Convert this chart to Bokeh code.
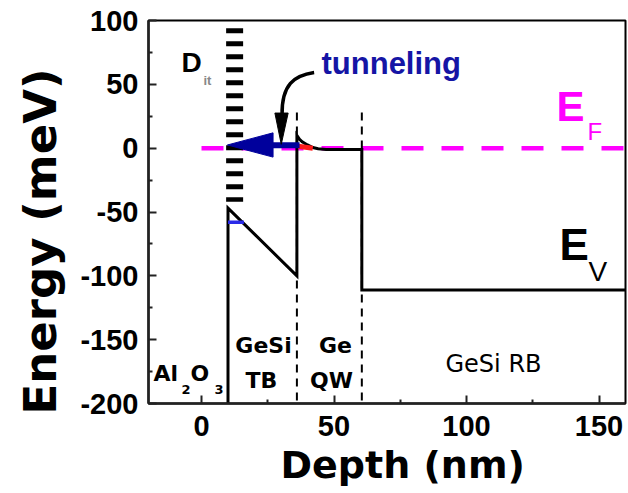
import math
from bokeh.plotting import figure
from bokeh.models import Label, FixedTicker, Range1d, Title
from bokeh.embed import file_html
from bokeh.resources import INLINE

# ---------------- data ----------------
# valence band edge E_V along depth
band_x = [10, 10, 36, 36, 37, 38, 40, 42, 44, 47, 52, 60.5, 60.5, 160]
band_y = [-200, -47, -100, 10, 7, 5, 2.5, 0.5, -0.5, -1, -1, -1, -111, -111]
# Fermi level
ef_x = [0, 160]
ef_y = [0, 0]
# interface trap states D_it
dit_x = [12.5, 12.5]
dit_y = [94, -42]
# hetero-interfaces (dashed)
iface1_x = [36, 36]
iface2_x = [60.5, 60.5]
iface_y = [28, -200]
# blue level in top barrier
lvl_x = [10, 16]
lvl_y = [-58, -58]
# red accumulation near QW edge
red_x = [36.5, 42]
red_y = [1.5, 0]
# tunneling arrow (blue)
tun_shaft_x = [37, 26]
tun_shaft_y = [2.2, 2.2]
tun_head_x = [9.8, 27, 27]
tun_head_y = [2.5, 12, -7]
# pointer arrow (black)
ptr_x0, ptr_y0 = 42.5, 59.3
ptr_cx0, ptr_cy0 = 35.0, 57.0
ptr_cx1, ptr_cy1 = 30.2, 50.0
ptr_x1, ptr_y1 = 30.4, 26.0
ptr_head_x = [30.1, 27.7, 32.7]
ptr_head_y = [3.0, 27.5, 27.5]

x_ticks = [0, 50, 100, 150]
x_minor = [25, 75, 125]
y_ticks = [-200, -150, -100, -50, 0, 50, 100]
y_minor = [-175, -125, -75, -25, 25, 75]
y_tick_labels = {t: str(t) for t in y_ticks}
x_tick_labels = {t: str(t) for t in x_ticks}

# ---------------- figure ----------------
W, H = 628, 493
FL, FR, FT, FB = 147, 625, 20, 403

p = figure(width=W, height=H, output_backend="svg", toolbar_location=None,
           x_range=Range1d(-20, 160), y_range=Range1d(-200, 100),
           min_border_left=FL, min_border_right=W - FR,
           min_border_top=FT, min_border_bottom=H - FB)
p.grid.visible = False
p.outline_line_color = "black"
p.outline_line_width = 2
p.background_fill_color = "white"
p.border_fill_color = "white"

for ax, maj, mnr, lbls in ((p.xaxis, x_ticks, x_minor, x_tick_labels),
                           (p.yaxis, y_ticks, y_minor, y_tick_labels)):
    ax.ticker = FixedTicker(ticks=maj, minor_ticks=mnr)
    ax.major_label_overrides = lbls
    ax.axis_line_width = 2.5
    ax.axis_line_color = "#222222"
    ax.major_tick_in = 8
    ax.major_tick_out = 0
    ax.minor_tick_in = 4
    ax.minor_tick_out = 0
    ax.major_tick_line_width = 2
    ax.minor_tick_line_width = 2
    ax.major_tick_line_color = "#222222"
    ax.minor_tick_line_color = "#222222"
    ax.major_label_text_font = "Liberation Sans"
    ax.major_label_text_font_style = "bold"
    ax.major_label_text_font_size = "29px"
    ax.major_label_text_color = "black"
p.yaxis.major_label_standoff = 10
p.xaxis.major_label_standoff = 12

# axis titles as side titles (allow offset along the axis)
p.add_layout(Title(text="Depth (nm)", align="left", offset=132, standoff=5,
                   text_font="DejaVu Sans", text_font_style="bold",
                   text_font_size="38px", text_color="black"), "below")
p.add_layout(Title(text="Energy (meV)", align="left", offset=-11, standoff=22,
                   text_font="DejaVu Sans", text_font_style="bold",
                   text_font_size="45px", text_color="black"), "left")

# Fermi level
p.line(ef_x, ef_y, line_color="#ff00ff", line_width=4.5, line_dash="22 18")
# interfaces
p.line(iface1_x, iface_y, line_color="black", line_width=2, line_dash="8 6")
p.line(iface2_x, iface_y, line_color="black", line_width=2, line_dash="8 6")
# D_it
p.line(dit_x, dit_y, line_color="black", line_width=17, line_dash="5 8")
# band edge
p.line(band_x, band_y, line_color="black", line_width=3, line_join="miter")
# blue level
p.line(lvl_x, lvl_y, line_color="#2a2ae8", line_width=3.5)
# red segment
p.line(red_x, red_y, line_color="#ff1a1a", line_width=5)
# tunneling arrow
p.line(tun_shaft_x, tun_shaft_y, line_color="#00009c", line_width=6)
p.patch(tun_head_x, tun_head_y, fill_color="#00009c", line_color="#00009c", line_width=1)
# pointer arrow
p.bezier(x0=[ptr_x0], y0=[ptr_y0], x1=[ptr_x1], y1=[ptr_y1],
         cx0=[ptr_cx0], cy0=[ptr_cy0], cx1=[ptr_cx1], cy1=[ptr_cy1],
         line_color="black", line_width=3.5)
p.patch(ptr_head_x, ptr_head_y, fill_color="black", line_color="black", line_width=1)


def lab(text, px, py, size, font="Liberation Sans", style="bold", color="black",
        align="left", angle=0.0):
    shift = 0.38 * size  # empirical baseline correction
    p.add_layout(Label(text=text, x=px - FL, y=FB - py + shift, x_units="screen", y_units="screen",
                       text_font=font, text_font_style=style, text_font_size=f"{size}px",
                       text_color=color, text_align=align, text_baseline="alphabetic",
                       angle=angle))


# annotations
lab("tunneling", 320, 75, 31, color="#1515a5")
lab("D", 180, 73, 28)
lab("it", 202, 85, 13, color="#888888")
lab("E", 555, 122, 42, color="#ff00ff")
lab("F", 586, 140, 24, style="normal", color="#ff00ff")
lab("E", 558, 261, 44)
lab("V", 587, 282, 28, style="normal")

# region labels
lab("Al", 152, 381, 22, font="DejaVu Sans")
lab("2", 180, 394, 13, font="DejaVu Sans")
lab("O", 189, 381, 22, font="DejaVu Sans")
lab("3", 213, 394, 13, font="DejaVu Sans")
lab("GeSi", 262, 353, 22, font="DejaVu Sans", align="center")
lab("TB", 260, 388, 22, font="DejaVu Sans", align="center")
lab("Ge", 334, 353, 22, font="DejaVu Sans", align="center")
lab("QW", 330, 388, 22, font="DejaVu Sans", align="center")
lab("GeSi RB", 492, 373, 24, font="DejaVu Sans", style="normal", align="center")

open("out.html", "w").write(file_html(p, INLINE))
